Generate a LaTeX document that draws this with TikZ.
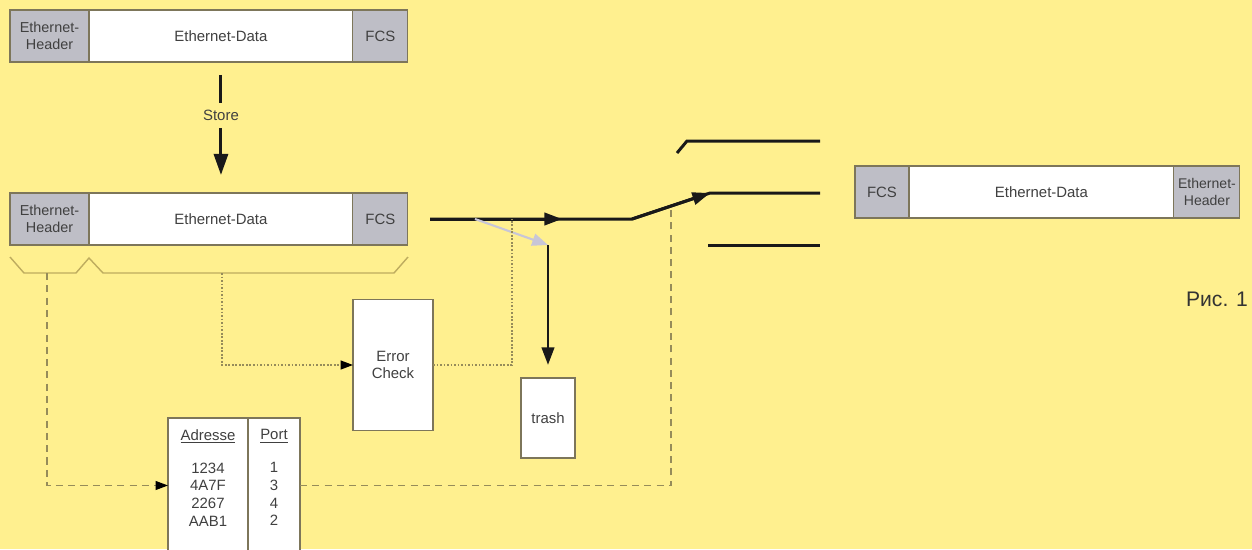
\documentclass[tikz,border=0pt]{standalone}
\usepackage{fontspec}
\setmainfont{Liberation Sans}
\usetikzlibrary{arrows.meta,positioning}
\definecolor{bgyel}{RGB}{255,240,143}
\definecolor{boxgray}{RGB}{190,190,198}
\definecolor{edgecol}{RGB}{125,118,90}
\definecolor{dashcol}{RGB}{150,140,90}
\definecolor{bracecol}{RGB}{190,172,95}
\definecolor{lightarr}{RGB}{200,198,215}

\begin{document}
\begin{tikzpicture}[x=0.02cm, y=-0.02cm, font=\fontsize{8.5}{10}\selectfont,
    part/.style={draw=edgecol, line width=0.6pt, outer sep=0pt, inner sep=1pt,
      minimum height=1.04cm, align=center, text=black!75},
    hdr/.style={part, fill=boxgray, minimum width=1.58cm},
    dat/.style={part, fill=white, minimum width=5.28cm},
    wire/.style={line width=1.7pt, black!90},
    tip/.style={-{Triangle[length=10pt,width=7pt]}},
    dashline/.style={dashcol, line width=0.8pt, dash pattern=on 4pt off 3pt},
    dotline/.style={dashcol, line width=0.9pt, dash pattern=on 1pt off 1pt},
    smalltip/.style={-{Triangle[length=7pt,width=5pt,color=black]}}]
  \clip (0,0) rectangle (1252,549);
  \fill[bgyel] (0,0) rectangle (1252,549);

  % incoming frame
  \node[hdr, anchor=north west, font=\fontsize{8.2}{9.8}\selectfont] (hdrA) at (10,10) {Ethernet-\\Header};
  \node[dat, right=0pt of hdrA] (datA) {Ethernet-Data};
  \node[hdr, minimum width=1.1cm, right=0pt of datA] (fcsA) {FCS};

  \node[inner sep=4pt, text=black!75, below=0.82cm of datA.south] (store) {Store};
  \draw[wire] (datA.south) ++(0,13) -- (store.north);

  % stored frame
  \node[hdr, anchor=north west, font=\fontsize{8.2}{9.8}\selectfont] (hdrB) at (10,193) {Ethernet-\\Header};
  \node[dat, right=0pt of hdrB] (datB) {Ethernet-Data};
  \node[hdr, minimum width=1.1cm, right=0pt of datB] (fcsB) {FCS};
  \draw[wire, -{Triangle[length=12pt,width=8pt]}, shorten >=0.36cm] (store.south) -- (datB.north);

  % brace under the stored frame
  \draw[bracecol, line width=0.8pt] (10,257) -- (24,273) -- (76,273) -- (89,258)
    -- (103,273) -- (394,273) -- (408,257);
  \coordinate (brH) at (47,273);
  \coordinate (brD) at (222,273);

  % error check, trash, table
  \node[part, fill=white, minimum width=1.6cm, minimum height=2.62cm] (err) at (393,365) {Error\\Check};
  \node[part, fill=white, minimum width=1.08cm, minimum height=1.6cm] (trash) at (548,418) {trash};
  \node[part, fill=white, anchor=north west, minimum width=1.6cm, minimum height=2.7cm] (adr) at (168,418) {};
  \node[part, fill=white, anchor=north west, minimum width=1.04cm, minimum height=2.7cm] (port) at (adr.north east) {};
  \node[below=0.1cm of adr.north, align=center, text=black!75] (adrtxt)
    {\underline{Adresse}\\[9pt]1234\\4A7F\\2267\\AAB1};
  \node[below=0.1cm of port.north, align=center, text=black!75] (porttxt)
    {\underline{Port}\\[9pt]1\\3\\4\\2};

  % switch
  \coordinate (in) at (430,219);
  \coordinate (mid) at (562,219);
  \coordinate (pivot) at (632,219);
  \coordinate (jn) at (512,219);
  \coordinate (sel) at (671,205);
  \coordinate (tr0) at (548,245);
  \coordinate (outM) at (710,193);
  \draw[wire] (in) -- (pivot) -- (outM) -- (820,193);
  \draw[wire, tip] (in) -- (mid);
  \draw[wire, tip] (pivot) -- (outM);
  \draw[wire] (677,153) -- (687,141) -- (820,141);
  \draw[wire] (708,245) -- (820,245);
  \draw[lightarr, line width=1.2pt, -{Triangle[length=9pt,width=7pt]}] (475,219) -- (tr0);
  \draw[wire, tip, shorten >=0.26cm] (tr0) -- (trash.north);

  % control paths
  \draw[dashline, smalltip] (brH) |- (adr.west);
  \draw[dotline, smalltip] (brD) |- (err.west);
  \draw[dotline] (err.east) -| (jn);
  \draw[dashline] (port.east) -| (sel);

  % outgoing frame
  \node[hdr, minimum width=1.08cm, anchor=north west] (fcsC) at (855,166) {FCS};
  \node[dat, minimum width=5.3cm, right=0pt of fcsC] (datC) {Ethernet-Data};
  \node[hdr, minimum width=1.32cm, right=0pt of datC, font=\fontsize{8}{9.8}\selectfont] (hdrC) {Ethernet-\\Header};

  \node[font=\fontsize{12}{14}\selectfont, text=black!80] (fig) at (1217,299) {Рис. 1};
\end{tikzpicture}
\end{document}
